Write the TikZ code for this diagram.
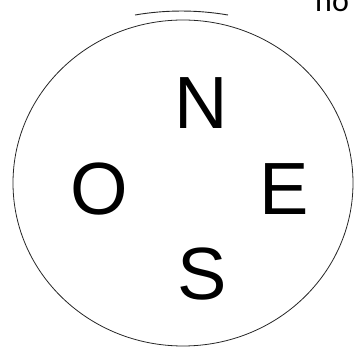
\documentclass[tikz,border=0pt]{standalone}
\usepackage{fontspec}
\setmainfont{Liberation Sans}
\newfontfamily\notefont{Carlito}
\usetikzlibrary{positioning}

\begin{document}
\begin{tikzpicture}[x=1pt,y=1pt,
  point/.style={inner sep=0pt,anchor=base,font=\fontsize{74}{74}\selectfont},
  rim/.style={draw,line width=.8pt,black!85}]
  \useasboundingbox (0,0) rectangle (354,348);
  \draw[rim] (183,165) ellipse [x radius=170,y radius=163];
  \draw[rim,line width=.9pt] (135,333) .. controls (166,338.3) and (197,338.3) .. (228,333);
  \node[point] (north) at (201.5,219) {N};
  \node[point] (east) at (284.5,133) {E};
  \node[point] (west) at (99,133) {O};
  \node[point] (south) at (202,48) {S};
  \node[inner sep=0pt,anchor=base west,font=\notefont\fontsize{32}{32}\selectfont] (note) at (315,336) {no};
\end{tikzpicture}
\end{document}
